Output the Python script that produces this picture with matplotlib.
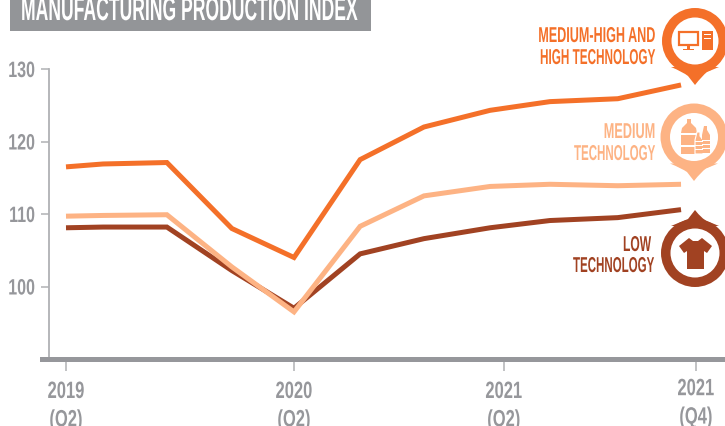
from matplotlib import pyplot as plt
from matplotlib.patches import Circle, PathPatch, Polygon, Rectangle
from matplotlib.path import Path
from matplotlib.patheffects import AbstractPathEffect
from matplotlib.transforms import Affine2D

plt.rcParams['font.family'] = ['Liberation Sans', 'DejaVu Sans']
plt.rcParams['font.weight'] = 'bold'

# Horizontal positions in quarters after 2019 Q2
quarter_pos = [0, 0.65, 1.77, 2.91, 4, 5.16, 6.28, 7.44, 8.49, 9.68, 10.79]
high_tech = [116.5, 116.9, 117.1, 108.0, 104.0, 117.5, 122.0, 124.3, 125.5, 125.9, 127.8]
medium_tech = [109.7, 109.8, 109.9, 102.7, 96.5, 108.3, 112.5, 113.8, 114.1, 113.9, 114.1]
low_tech = [108.1, 108.2, 108.2, 102.2, 97.0, 104.5, 106.6, 108.1, 109.1, 109.5, 110.6]

y_ticks = [100, 110, 120, 130]
x_ticks = [0, 4, 7.68, 11.05]
x_tick_labels = ['2019\n(Q2)', '2020\n(Q2)', '2021\n(Q2)', '2021\n(Q4)']

title = 'MANUFACTURING PRODUCTION INDEX'
high_label = ['MEDIUM-HIGH AND', 'HIGH TECHNOLOGY']
medium_label = ['MEDIUM', 'TECHNOLOGY']
low_label = ['LOW', 'TECHNOLOGY']

ORANGE = '#F47029'
PEACH = '#FDB384'
BROWN = '#A14222'
GREY = '#96979B'
TITLE_GREY = '#939598'
AXIS_GREY = '#B0B1B4'


class Squeeze(AbstractPathEffect):
    """Narrows text about a fixed pixel column, the font in the original is very condensed."""

    def __init__(self, x0, factor):
        super().__init__()
        self.x0 = x0
        self.factor = factor

    def draw_path(self, renderer, gc, tpath, affine, rgbFace=None):
        squeeze = Affine2D().translate(-self.x0, 0).scale(self.factor, 1).translate(self.x0, 0)
        renderer.draw_path(gc, tpath, affine + squeeze, rgbFace)


def draw_pin(ax, cx, cy, radius, tip_y, color):
    # Round ring with a bell shaped tip, above or below the circle
    side = 1 if tip_y > cy else -1
    neck = cy + side * (radius - 7)
    verts = [(cx - 24, neck), (cx - 12, neck + side * 5), (cx - 7, tip_y - side * 9), (cx, tip_y),
             (cx + 7, tip_y - side * 9), (cx + 12, neck + side * 5), (cx + 24, neck), (cx - 24, neck)]
    codes = [Path.MOVETO, Path.CURVE3, Path.CURVE3, Path.LINETO, Path.CURVE3, Path.CURVE3, Path.LINETO, Path.CLOSEPOLY]
    ax.add_patch(PathPatch(Path(verts, codes), fc=color, ec='none'))
    ax.add_patch(Circle((cx, cy), radius, fc=color, ec='none'))
    ax.add_patch(Circle((cx, cy), radius - 9.5, fc='white', ec='none'))


def draw_label(ax, lines, color, baselines, right_edges, factors):
    for line, base, right, factor in zip(lines, baselines, right_edges, factors):
        ax.text(right, base, line, color=color, fontsize=15.5, ha='right', va='baseline',
                path_effects=[Squeeze(right, factor)])


fig = plt.figure(figsize=(7.25, 4.27), dpi=100)

# Chart axes, placed so the axis lines fall where they are in the reference
ax = fig.add_axes([49 / 725, 67 / 427, 676 / 725, 290 / 427])
ax.plot(quarter_pos, low_tech, color=BROWN, lw=3.6, solid_joinstyle='miter', solid_capstyle='butt')
ax.plot(quarter_pos, medium_tech, color=PEACH, lw=3.6, solid_joinstyle='miter', solid_capstyle='butt')
ax.plot(quarter_pos, high_tech, color=ORANGE, lw=3.6, solid_joinstyle='miter', solid_capstyle='butt')
ax.set_xlim(-17 / 57, 659 / 57)
ax.set_ylim(90, 130)
ax.patch.set_visible(False)
for name in ['top', 'right', 'bottom']:
    ax.spines[name].set_visible(False)
ax.spines['left'].set_color(AXIS_GREY)
ax.spines['left'].set_linewidth(1.3)

ax.set_yticks(y_ticks)
ax.tick_params(axis='y', length=5.8, width=1.1, color=AXIS_GREY, pad=4.3, labelcolor=GREY, labelsize=16)
for label in ax.get_yticklabels():
    label.set_path_effects([Squeeze(35, 0.72)])

ax.set_xticks(x_ticks)
ax.set_xticklabels(x_tick_labels, linespacing=1.3)
ax.tick_params(axis='x', length=8.6, width=1.1, color=AXIS_GREY, pad=6.5, labelcolor=GREY, labelsize=17)
for label, px in zip(ax.get_xticklabels(), [66, 294, 504, 696]):
    label.set_path_effects([Squeeze(px, 0.7)])
ax.xaxis.get_major_ticks()[3].set_pad(4.5)

# Pixel layer for the title, baseline, pins and icons
deco = fig.add_axes([0, 0, 1, 1])
deco.set_xlim(0, 725)
deco.set_ylim(427, 0)
deco.axis('off')
deco.patch.set_visible(False)

deco.add_patch(Rectangle((40, 357.5), 685, 5, fc=GREY, ec='none'))
deco.add_patch(Rectangle((10, 0), 361, 32, fc=TITLE_GREY, ec='none'))
deco.text(21, 21, title, color='white', fontsize=24, ha='left', va='baseline',
          path_effects=[Squeeze(21, 0.527)])

draw_pin(deco, 695, 42, 33, 86, ORANGE)
draw_pin(deco, 694, 138, 33.5, 182, PEACH)
draw_pin(deco, 695, 254, 34, 211, BROWN)

draw_label(deco, high_label, ORANGE, [43, 65], [655, 655], [0.585, 0.545])
draw_label(deco, medium_label, PEACH, [139, 161], [655, 655], [0.59, 0.535])
draw_label(deco, low_label, BROWN, [252, 273], [651, 654], [0.56, 0.535])

# Computer icon
deco.add_patch(Rectangle((679, 33), 19, 13, fc='none', ec=ORANGE, lw=1.6))
deco.add_patch(Rectangle((687, 46), 3, 4, fc=ORANGE, ec='none'))
deco.add_patch(Rectangle((683, 49.5), 11, 1.8, fc=ORANGE, ec='none'))
deco.add_patch(Rectangle((702, 32), 11, 19, fc=ORANGE, ec='none'))
deco.add_patch(Rectangle((704, 35), 7, 1.4, fc='white', ec='none'))
deco.add_patch(Rectangle((704, 38.5), 7, 1.4, fc='white', ec='none'))

# Bottles icon
deco.add_patch(Polygon([(687, 120), (691, 120), (691, 124), (696, 129), (697, 134), (697, 155), (681, 155),
                        (681, 134), (682, 129), (687, 124)], closed=True, fc=PEACH, ec='none'))
deco.add_patch(Rectangle((681, 134), 16, 1.5, fc='white', ec='none'))
deco.add_patch(Rectangle((681, 146), 16, 1.5, fc='white', ec='none'))
deco.add_patch(Polygon([(697, 133), (700, 133), (700, 137), (703, 141), (703, 155), (695, 155), (695, 141)],
                       closed=True, fc=PEACH, ec='white', lw=0.8))
deco.add_patch(Polygon([(704, 127), (707, 127), (707, 131), (710, 136), (710, 154), (702, 154), (702, 136)],
                       closed=True, fc=PEACH, ec='none'))
for band_y in [141, 145, 149]:
    deco.add_patch(Rectangle((702, band_y), 8, 1.1, fc='white', ec='none'))
    deco.add_patch(Rectangle((695, band_y + 1), 8, 1.1, fc='white', ec='none'))

# T-shirt icon
deco.add_patch(Polygon([(689, 239), (693, 242), (698, 242), (702, 239), (712, 247), (707, 254), (704, 252),
                        (704, 270), (687, 270), (687, 252), (684, 254), (679, 247)],
                       closed=True, fc=BROWN, ec='none'))

fig.savefig('out.png', dpi=100)
